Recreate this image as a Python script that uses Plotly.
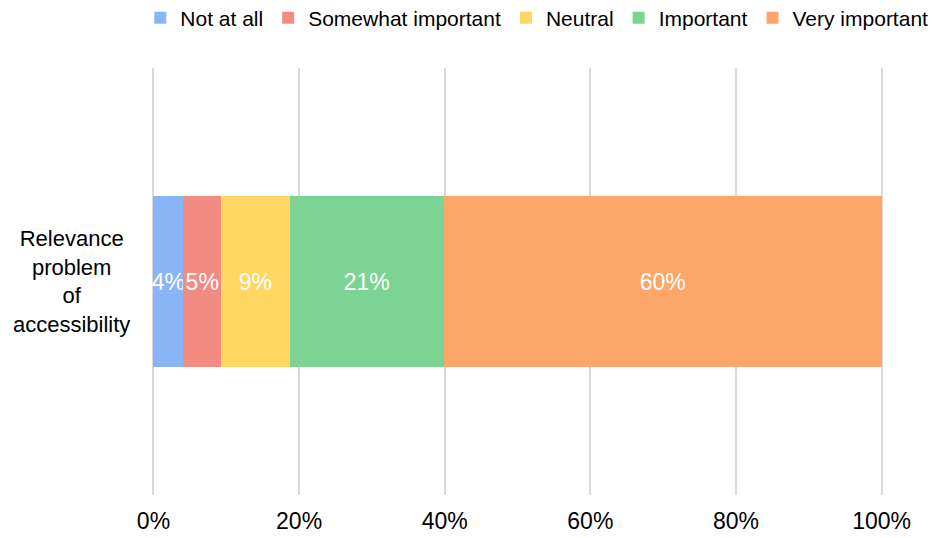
import plotly.graph_objects as go

categories = ["Relevance<br>problem<br>of<br>accessibility"]
series_names = ["Not at all", "Somewhat important", "Neutral", "Important", "Very important"]
series_values = [[4.1], [5.2], [9.4], [21.2], [60.1]]
colors = ["#8AB4F8", "#F28B82", "#FDD663", "#7BD494", "#FCA66A"]
tick_vals = [0, 20, 40, 60, 80, 100]
tick_text = ["0%", "20%", "40%", "60%", "80%", "100%"]

FONT = "Liberation Sans, Arial, sans-serif"

fig = go.Figure()
for name, vals, col in zip(series_names, series_values, colors):
    fig.add_trace(go.Bar(
        y=categories, x=vals, name=name, orientation="h",
        marker=dict(color=col, line=dict(width=0)),
        texttemplate="%{x:.0f}%", textposition="inside", insidetextanchor="middle",
        textangle=0,
        textfont=dict(color="white", size=23, family=FONT),
        constraintext="none", width=0.4,
    ))

fig.add_annotation(
    x=-0.0274, xref="paper", xanchor="right",
    y=categories[0], yref="y", yanchor="middle",
    text=categories[0], showarrow=False, align="center",
    font=dict(size=22, color="#000000", family=FONT),
)

# the page body adds an 8px margin, so the figure is 8px smaller and its margins shifted
fig.update_layout(
    barmode="stack",
    width=931, height=530,
    margin=dict(l=144, r=56, t=60, b=43, autoexpand=False),
    paper_bgcolor="white", plot_bgcolor="white",
    font=dict(family=FONT, size=23, color="#000000"),
    legend=dict(orientation="h", x=-0.016, xanchor="left", y=1.117, yanchor="middle",
                font=dict(size=21), traceorder="normal", itemwidth=30,
                tracegroupgap=0),
    uniformtext=dict(minsize=23, mode="show"),
)
fig.update_xaxes(range=[-0.2, 100.2], tickvals=tick_vals, ticktext=tick_text,
                 showgrid=True, gridcolor="#D9D9D9", gridwidth=2, zeroline=False,
                 showline=False, ticklabelstandoff=10,
                 tickfont=dict(size=23, color="#000000"))
fig.update_yaxes(showticklabels=False, showgrid=False, zeroline=False, showline=False,
                 range=[-0.5, 0.5])

fig.write_html("out.html")
